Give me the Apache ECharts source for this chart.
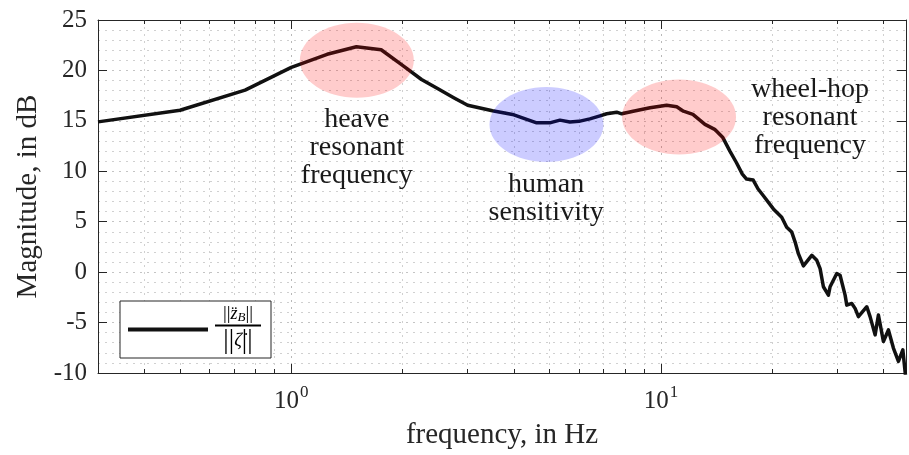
<!DOCTYPE html>
<html><head><meta charset="utf-8">
<script src="https://cdn.jsdelivr.net/npm/echarts@6/dist/echarts.min.js"></script>
<style>html,body{margin:0;padding:0;background:#fff}#c{width:909px;height:455px}</style>
</head><body><div id="c"></div>
<script>
// ---- data ----
const freq = [0.3, 0.5, 0.75, 1.0, 1.25, 1.5, 1.75, 2.0, 2.25, 2.5, 2.75, 3.0, 3.5, 4.0, 4.61, 5.0, 5.33, 5.67, 6.0, 6.42, 6.84, 7.13, 7.59, 7.83, 8.41, 9.34, 10.36, 11.03, 11.5, 12.2, 13.15, 13.97, 14.7, 15.36, 15.99, 16.6, 17.04, 17.76, 18.31, 18.9, 20.14, 21.21, 21.88, 22.58, 23.06, 23.53, 24.28, 25.58, 26.39, 26.94, 27.5, 28.37, 28.67, 29.89, 30.51, 31.48, 31.81, 32.82, 33.5, 34.2, 36.04, 36.78, 37.95, 38.74, 39.96, 41.23, 42.53, 43.88, 45.1, 45.84];
const mag = [14.9, 16.05, 18.05, 20.3, 21.6, 22.35, 22.05, 20.5, 19.1, 18.15, 17.3, 16.55, 16.0, 15.6, 14.8, 14.8, 15.07, 14.88, 14.95, 15.2, 15.5, 15.7, 15.86, 15.7, 15.96, 16.3, 16.55, 16.39, 15.96, 15.64, 14.65, 14.16, 13.34, 12.0, 10.87, 9.72, 9.23, 9.13, 8.24, 7.6, 6.27, 5.45, 4.46, 3.97, 2.98, 1.83, 0.62, 1.67, 1.17, 0.35, -1.45, -2.28, -1.45, -0.14, -0.31, -2.28, -3.27, -3.1, -3.59, -4.41, -3.43, -4.41, -6.22, -4.25, -6.87, -5.73, -7.53, -8.85, -7.7, -10.2];
const majorTicksX = [1, 10];
const minorTicksX = [0.4, 0.5, 0.6, 0.7, 0.8, 0.9, 2, 3, 4, 5, 6, 7, 8, 9, 20, 30, 40];
const yMin = -10, yMax = 25, yStep = 5;
const xMin = 0.3, xMax = 46;
const annotFreq = [1.504, 4.9, 11.19];
const annotMag = [21.0, 14.65, 15.39];
const annotColor = ['rgba(255,0,0,0.2)', 'rgba(0,0,255,0.2)', 'rgba(255,0,0,0.2)'];
const labelText = ['heave\nresonant\nfrequency', 'human\nsensitivity', 'wheel-hop\nresonant\nfrequency'];
const labelFreq = [1.504, 4.89, 25.3];
const labelMag = [12.38, 7.25, 15.34];
const seriesName = 'ratio';

// ---- chart ----
const FONT = 'Liberation Serif';
const AX = '#262626';
const chart = echarts.init(document.getElementById('c'), null, {renderer: 'canvas'});

function xAx(pos, ticks, len, labels, splitColor, showLine) {
  return {
    type: 'log', logBase: 10, min: xMin, max: xMax, position: pos,
    axisLine: {show: showLine, onZero: false, lineStyle: {color: AX, width: 1}},
    axisTick: {show: true, inside: true, length: len, customValues: ticks, lineStyle: {color: AX, width: 1}},
    axisLabel: labels ? {
      show: true, margin: 11, customValues: majorTicksX, color: AX,
      formatter: v => '{b|10}{s|' + Math.round(Math.log10(v)) + '}',
      rich: {
        b: {fontFamily: FONT, fontSize: 25, color: AX, lineHeight: 30, verticalAlign: 'bottom'},
        s: {fontFamily: FONT, fontSize: 17, color: AX, lineHeight: 17, padding: [0, 0, 13, 1], verticalAlign: 'bottom'}
      }
    } : {show: false},
    splitLine: splitColor ? {show: true, lineStyle: {color: splitColor, type: [2, 5], width: 1}} : {show: false},
    minorTick: {show: false},
    name: labels ? 'frequency, in Hz' : '',
    nameLocation: 'middle', nameGap: 48,
    nameTextStyle: {fontFamily: FONT, fontSize: 29, color: AX}
  };
}

function yAx(pos, main) {
  return {
    type: 'value', min: yMin, max: yMax, interval: yStep, position: pos,
    axisLine: {show: true, onZero: false, lineStyle: {color: AX, width: 1}},
    axisTick: {show: true, inside: true, length: 9, lineStyle: {color: AX}},
    axisLabel: main ? {show: true, margin: 11, color: AX, fontFamily: FONT, fontSize: 25} : {show: false},
    splitLine: main ? {show: true, lineStyle: {color: '#c4c4c4', type: [2, 5], width: 1}} : {show: false},
    minorTick: {show: false, splitNumber: 5},
    minorSplitLine: main ? {show: true, lineStyle: {color: '#d0d0d0', type: [2, 5], width: 1}} : {show: false},
    name: main ? 'Magnitude, in dB' : '',
    nameLocation: 'middle', nameGap: 54,
    nameTextStyle: {fontFamily: FONT, fontSize: 29, color: AX}
  };
}

const option = {
  animation: false,
  backgroundColor: '#fff',
  textStyle: {fontFamily: FONT},
  grid: {left: 98, right: 3, top: 20, bottom: 80, containLabel: false},
  xAxis: [
    xAx('bottom', majorTicksX, 9, true, '#b8b8b8', true),
    xAx('bottom', minorTicksX, 4, false, '#d0d0d0', false),
    xAx('top', majorTicksX, 9, false, null, true),
    xAx('top', minorTicksX, 4, false, null, false)
  ],
  yAxis: [yAx('left', true), yAx('right', false)],
  legend: {
    show: true, left: 120, top: 301, orient: 'horizontal',
    backgroundColor: '#fff', borderColor: AX, borderWidth: 1, borderRadius: 0,
    padding: [4, 10, 4, 8], itemWidth: 80, itemHeight: 4, itemGap: 0,
    icon: 'rect',
    formatter: () => '{n|||}{z|z\u0308}{sb|B}{n|||}\n{bar| }\n{d|||}{zd|\u03B6\u0307}{d|||}',
    textStyle: {
      fontFamily: FONT, color: '#000', padding: [0, 0, 0, 2],
      rich: {
        n: {fontFamily: FONT, fontSize: 19, color: '#000', align: 'center', lineHeight: 19},
        z: {fontFamily: FONT, fontStyle: 'italic', fontSize: 18, color: '#000', align: 'center', lineHeight: 19},
        sb: {fontFamily: FONT, fontStyle: 'italic', fontSize: 13, color: '#000', align: 'center', lineHeight: 14, padding: [6, 0, 0, 0]},
        bar: {fontSize: 2, lineHeight: 3, height: 2, width: 46, backgroundColor: '#000', align: 'center'},
        d: {fontFamily: FONT, fontSize: 27, color: '#000', align: 'center', lineHeight: 27},
        zd: {fontFamily: FONT, fontStyle: 'italic', fontSize: 19, color: '#000', align: 'center', lineHeight: 27}
      }
    },
    data: [seriesName]
  },
  series: [{
    name: seriesName, type: 'line', xAxisIndex: 0, yAxisIndex: 0,
    data: freq.map((f, i) => [f, mag[i]]),
    showSymbol: false, symbol: 'none', clip: true,
    lineStyle: {color: '#111', width: 3.5, join: 'round'},
    itemStyle: {color: '#111'}, z: 3
  }]
};
chart.setOption(option);

function drawAnnotations() {
  const els = [];
  for (let i = 0; i < annotFreq.length; i++) {
    const p = chart.convertToPixel({xAxisIndex: 0, yAxisIndex: 0}, [annotFreq[i], annotMag[i]]);
    els.push({type: 'ellipse', z: 10, silent: true,
      shape: {cx: p[0], cy: p[1], rx: 57, ry: 37.5},
      style: {fill: annotColor[i]}});
  }
  for (let i = 0; i < labelText.length; i++) {
    const p = chart.convertToPixel({xAxisIndex: 0, yAxisIndex: 0}, [labelFreq[i], labelMag[i]]);
    els.push({type: 'text', z: 11, silent: true, x: p[0], y: p[1],
      style: {text: labelText[i], fontFamily: FONT, fontSize: 28, lineHeight: 28,
        fill: '#1a1a1a', align: 'center', verticalAlign: 'middle'}});
  }
  chart.setOption({graphic: {elements: els}});
}
drawAnnotations();
</script>
</body></html>
